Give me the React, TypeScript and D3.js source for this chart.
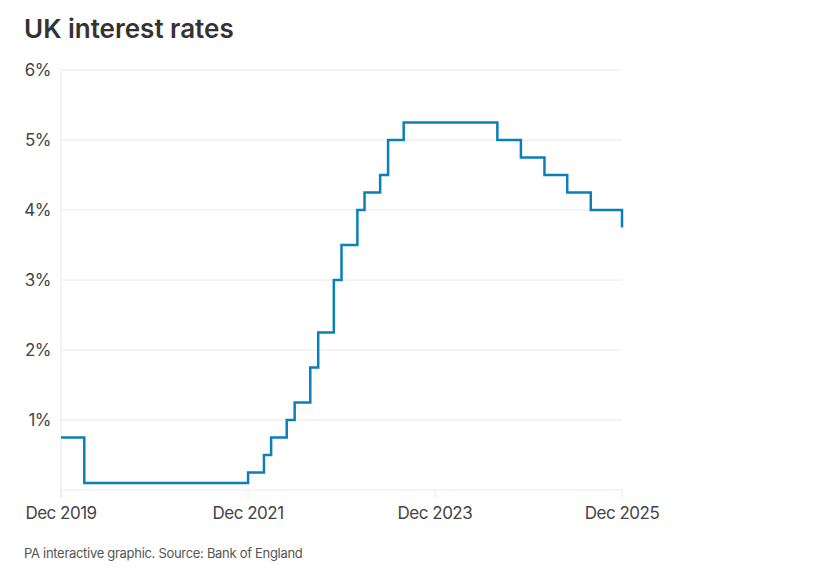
import React from "react";
import * as d3 from "d3";

const changeMonths = [
  "2019-12", "2020-03", "2021-12", "2022-02", "2022-03", "2022-05", "2022-06",
  "2022-08", "2022-09", "2022-11", "2022-12", "2023-02", "2023-03", "2023-05",
  "2023-06", "2023-08", "2024-08", "2024-11", "2025-02", "2025-05", "2025-08",
  "2025-12",
];
const rates = [
  0.75, 0.1, 0.25, 0.5, 0.75, 1.0, 1.25, 1.75, 2.25, 3.0, 3.5, 4.0, 4.25, 4.5,
  5.0, 5.25, 5.0, 4.75, 4.5, 4.25, 4.0, 3.75,
];
const yTicks = [1, 2, 3, 4, 5, 6];
const xTickMonths = ["2019-12", "2021-12", "2023-12", "2025-12"];

const parse = d3.timeParse("%Y-%m");
const fmt = d3.timeFormat("%b %Y");

export default function App() {
  const W = 838, H = 577;
  const left = 61, right = 622, top = 70, bottom = 490;
  const data = changeMonths.map((m, i) => ({ d: parse(m) as Date, v: rates[i] }));
  const x = d3.scaleTime().domain([parse("2019-12") as Date, parse("2025-12") as Date]).range([left, right]);
  const y = d3.scaleLinear().domain([0, 6]).range([bottom, top]);
  const line = d3.line<{ d: Date; v: number }>().x((p) => x(p.d)).y((p) => y(p.v)).curve(d3.curveStepAfter);
  const font = "Inter, 'Noto Sans', sans-serif";
  return (
    <svg width={W} height={H} style={{ position: "absolute", left: 0, top: 0, fontFamily: font }}>
      <rect width={W} height={H} fill="#fff" />
      <text x={24} y={38} fontSize={26} fontWeight={600} fill="#333" letterSpacing={0}>UK interest rates</text>
      {yTicks.map((t) => (
        <g key={t}>
          <line x1={left} x2={right} y1={y(t)} y2={y(t)} stroke="#e8e8e8" strokeWidth={1} />
          <text x={51} y={y(t)} dy="0.35em" textAnchor="end" fontSize={17} fill="#444" letterSpacing={-0.5}>{t}%</text>
        </g>
      ))}
      <line x1={left} x2={right} y1={bottom} y2={bottom} stroke="#e8e8e8" />
      <line x1={left} x2={left} y1={top} y2={498} stroke="#e8e8e8" />
      {xTickMonths.map((m) => {
        const d = parse(m) as Date;
        return (
          <g key={m}>
            <line x1={x(d)} x2={x(d)} y1={bottom} y2={498} stroke="#e8e8e8" />
            <text x={x(d)} y={519} textAnchor="middle" fontSize={17} fill="#444" letterSpacing={-0.5}>{fmt(d)}</text>
          </g>
        );
      })}
      <path d={line(data) || ""} fill="none" stroke="#0a80b9" strokeWidth={2.5} />
      <text x={24} y={558} fontSize={13} fill="#555" letterSpacing={-0.3}>PA interactive graphic. Source: Bank of England</text>
    </svg>
  );
}
